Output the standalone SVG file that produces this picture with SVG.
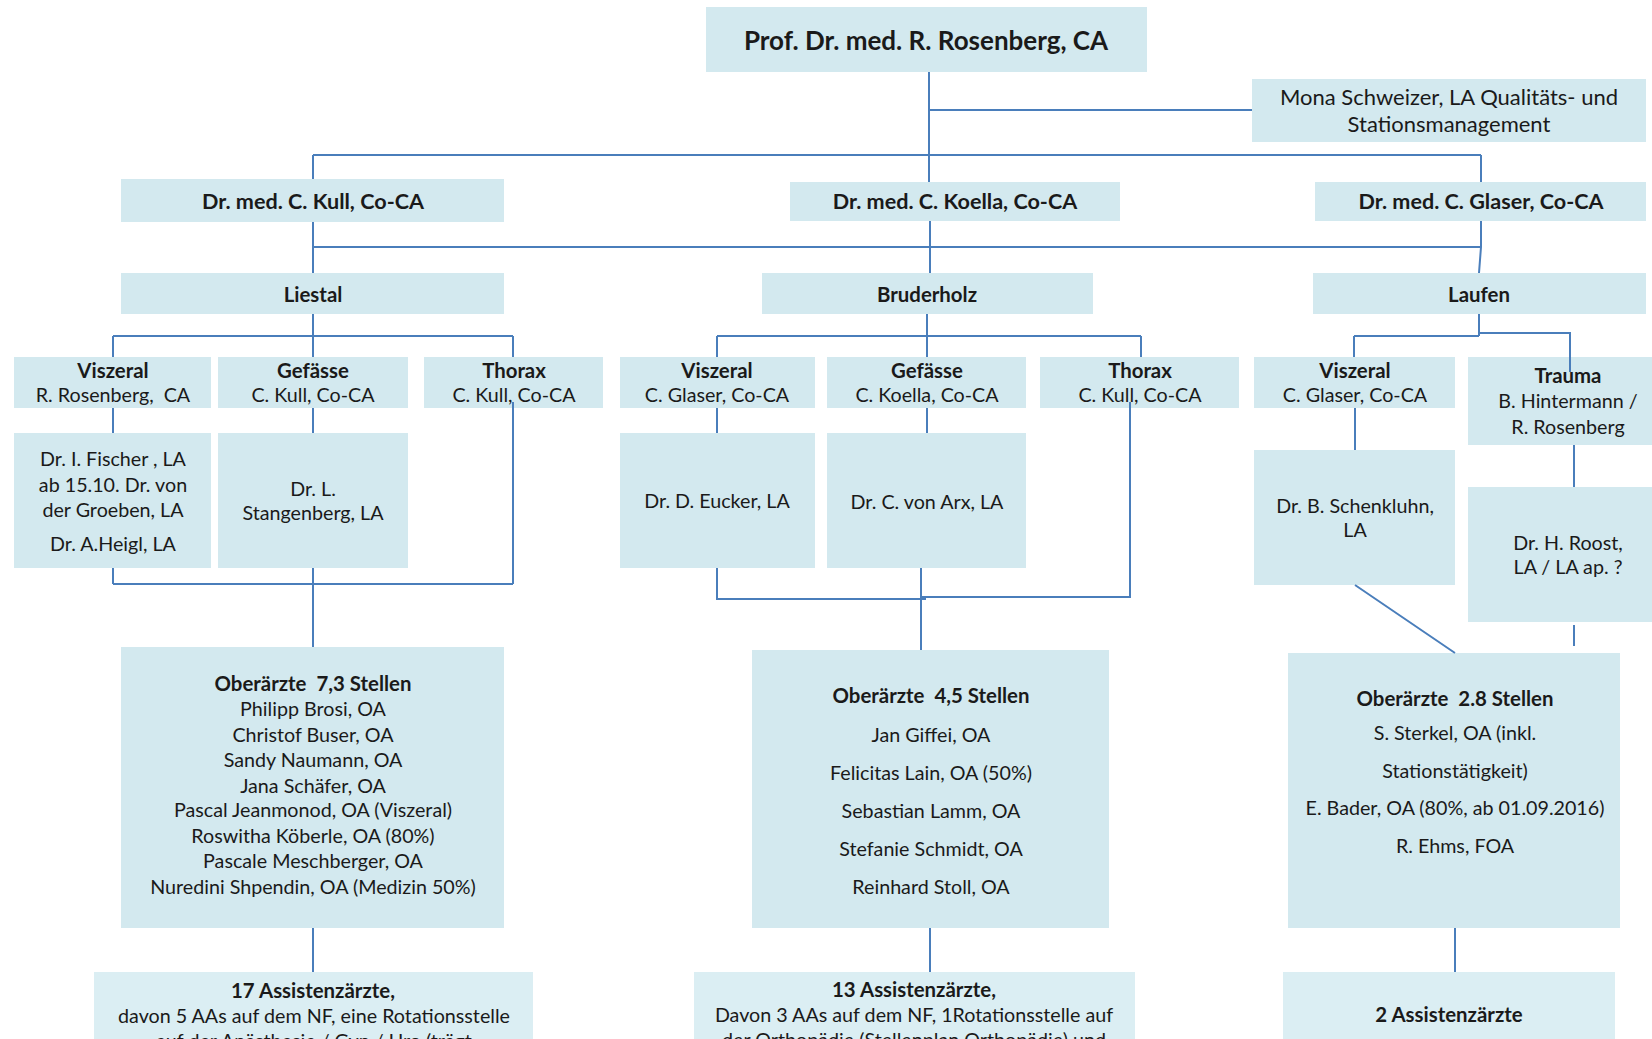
<svg xmlns="http://www.w3.org/2000/svg" width="1652" height="1039" viewBox="0 0 1652 1039">
<style>
.b{fill:#d3e9ef}
.b2{fill:#dbeef3}
text{font-family:Lato,"Liberation Sans",sans-serif;font-size:19.7px;fill:#1a1a1a;text-anchor:middle}
.h{font-weight:bold;font-size:20.4px}
.k{font-weight:bold;font-size:21.6px}
.m{font-size:22px}
.t{font-size:26px;font-weight:bold}
.p{white-space:pre}
.c{fill:none;stroke:#4a7ebb;stroke-width:2}
</style>
<rect width="1652" height="1039" fill="#ffffff"/>
<g id="n-chef"><rect class="b" x="706" y="7" width="441" height="65"/><text class="t" x="926" y="50">Prof. Dr. med. R. Rosenberg, CA</text></g>
<g id="n-mona"><rect class="b" x="1252" y="79" width="394" height="63"/><text class="m" x="1449" y="105">Mona Schweizer, LA Qualitäts- und</text><text class="m" x="1449" y="132">Stationsmanagement</text></g>
<g id="n-kull"><rect class="b" x="121" y="179" width="383" height="43"/><text class="k" x="313" y="209">Dr. med. C. Kull, Co-CA</text></g>
<g id="n-koella"><rect class="b" x="790" y="182" width="330" height="39"/><text class="k" x="955" y="209">Dr. med. C. Koella, Co-CA</text></g>
<g id="n-glaser"><rect class="b" x="1315" y="182" width="331" height="39"/><text class="k" x="1481" y="209">Dr. med. C. Glaser, Co-CA</text></g>
<g id="n-liestal"><rect class="b" x="121" y="273" width="383" height="41"/><text class="h" x="313" y="302">Liestal</text></g>
<g id="n-bruderholz"><rect class="b" x="762" y="273" width="331" height="41"/><text class="h" x="927" y="302">Bruderholz</text></g>
<g id="n-laufen"><rect class="b" x="1313" y="273" width="333" height="41"/><text class="h" x="1479" y="302">Laufen</text></g>
<g id="n-l-visz"><rect class="b" x="14" y="357" width="197" height="51"/><text class="h" x="113" y="378">Viszeral</text><text class="p" x="113" y="402">R. Rosenberg,  CA</text></g>
<g id="n-l-gef"><rect class="b" x="218" y="357" width="190" height="51"/><text class="h" x="313" y="378">Gefässe</text><text x="313" y="402">C. Kull, Co-CA</text></g>
<g id="n-l-thor"><rect class="b" x="424" y="357" width="179" height="51"/><text class="h" x="514" y="378">Thorax</text><text x="514" y="402">C. Kull, Co-CA</text></g>
<g id="n-b-visz"><rect class="b" x="620" y="357" width="195" height="51"/><text class="h" x="717" y="378">Viszeral</text><text x="717" y="402">C. Glaser, Co-CA</text></g>
<g id="n-b-gef"><rect class="b" x="827" y="357" width="199" height="51"/><text class="h" x="927" y="378">Gefässe</text><text x="927" y="402">C. Koella, Co-CA</text></g>
<g id="n-b-thor"><rect class="b" x="1040" y="357" width="199" height="51"/><text class="h" x="1140" y="378">Thorax</text><text x="1140" y="402">C. Kull, Co-CA</text></g>
<g id="n-la-visz"><rect class="b" x="1254" y="357" width="201" height="51"/><text class="h" x="1355" y="378">Viszeral</text><text x="1355" y="402">C. Glaser, Co-CA</text></g>
<g id="n-la-trauma"><rect class="b" x="1468" y="357" width="190" height="88"/><text class="h" x="1568" y="383">Trauma</text><text x="1568" y="408">B. Hintermann /</text><text x="1568" y="434">R. Rosenberg</text></g>
<g id="n-fischer"><rect class="b" x="14" y="433" width="197" height="135"/><text x="113" y="466">Dr. I. Fischer , LA</text><text x="113" y="492">ab 15.10. Dr. von</text><text x="113" y="517">der Groeben, LA</text><text x="113" y="551">Dr. A.Heigl, LA</text></g>
<g id="n-stangenberg"><rect class="b" x="218" y="433" width="190" height="135"/><text x="313" y="496">Dr. L.</text><text x="313" y="520">Stangenberg, LA</text></g>
<g id="n-eucker"><rect class="b" x="620" y="433" width="195" height="135"/><text x="717" y="508">Dr. D. Eucker, LA</text></g>
<g id="n-vonarx"><rect class="b" x="827" y="433" width="199" height="135"/><text x="927" y="509">Dr. C. von Arx, LA</text></g>
<g id="n-schenkluhn"><rect class="b" x="1254" y="450" width="201" height="135"/><text x="1355" y="513">Dr. B. Schenkluhn,</text><text x="1355" y="537">LA</text></g>
<g id="n-roost"><rect class="b" x="1468" y="487" width="190" height="135"/><text x="1568" y="550">Dr. H. Roost,</text><text x="1568" y="574">LA / LA ap. ?</text></g>
<g id="n-l-oa"><rect class="b" x="121" y="647" width="383" height="281"/>
<text class="h p" x="313" y="691">Oberärzte  7,3 Stellen</text>
<text x="313" y="716">Philipp Brosi, OA</text>
<text x="313" y="742">Christof Buser, OA</text>
<text x="313" y="767">Sandy Naumann, OA</text>
<text x="313" y="793">Jana Schäfer, OA</text>
<text x="313" y="817">Pascal Jeanmonod, OA (Viszeral)</text>
<text x="313" y="843">Roswitha Köberle, OA (80%)</text>
<text x="313" y="868">Pascale Meschberger, OA</text>
<text x="313" y="894">Nuredini Shpendin, OA (Medizin 50%)</text></g>
<g id="n-b-oa"><rect class="b" x="752" y="650" width="357" height="278"/>
<text class="h p" x="931" y="703">Oberärzte  4,5 Stellen</text>
<text x="931" y="742">Jan Giffei, OA</text>
<text x="931" y="780">Felicitas Lain, OA (50%)</text>
<text x="931" y="818">Sebastian Lamm, OA</text>
<text x="931" y="856">Stefanie Schmidt, OA</text>
<text x="931" y="894">Reinhard Stoll, OA</text></g>
<g id="n-la-oa"><rect class="b" x="1288" y="653" width="332" height="275"/>
<text class="h p" x="1455" y="706">Oberärzte  2.8 Stellen</text>
<text x="1455" y="740">S. Sterkel, OA (inkl.</text>
<text x="1455" y="778">Stationstätigkeit)</text>
<text x="1455" y="815">E. Bader, OA (80%, ab 01.09.2016)</text>
<text x="1455" y="853">R. Ehms, FOA</text></g>
<g id="n-l-aa"><rect class="b2" x="94" y="972" width="439" height="80"/>
<text class="h" x="313" y="998">17 Assistenzärzte,</text>
<text x="314" y="1023">davon 5 AAs auf dem NF, eine Rotationsstelle</text>
<text x="314" y="1048">auf der Anästhesie / Gyn / Uro (trägt</text></g>
<g id="n-b-aa"><rect class="b2" x="694" y="972" width="441" height="80"/>
<text class="h" x="914" y="997">13 Assistenzärzte,</text>
<text x="914" y="1022">Davon 3 AAs auf dem NF, 1Rotationsstelle auf</text>
<text x="914" y="1047">der Orthopädie (Stellenplan Orthopädie) und</text></g>
<g id="n-la-aa"><rect class="b2" x="1283" y="972" width="332" height="80"/>
<text class="h" x="1449" y="1022">2 Assistenzärzte</text></g>
<g id="connectors" class="c">
<path d="M929 72V182M929 110H1252M313 155H1481M313 155V179M1481 155V182"/>
<path d="M313 222V273M313 247H1481M930 221V273M1481 221V247L1479 273"/>
<path d="M313 314V357M113 336H513M113 336V357M513 336V357"/>
<path d="M113 408V433M313 408V433M513 402V584M113 584H513M113 568V584M313 568V647"/>
<path d="M927 314V357M717 336H1141M717 336V357M1141 336V357"/>
<path d="M717 408V433M927 408V433M1130 402V597H921M717 568V599H926M921 568V650"/>
<path d="M1479 314V336M1354 336H1479M1479 333H1570V372M1354 336V357"/>
<path d="M1355 408V450M1574 445V487M1574 625V646M1355 585L1455 653"/>
<path d="M313 928V972M930 928V972M1455 928V972"/>
</g>
</svg>
